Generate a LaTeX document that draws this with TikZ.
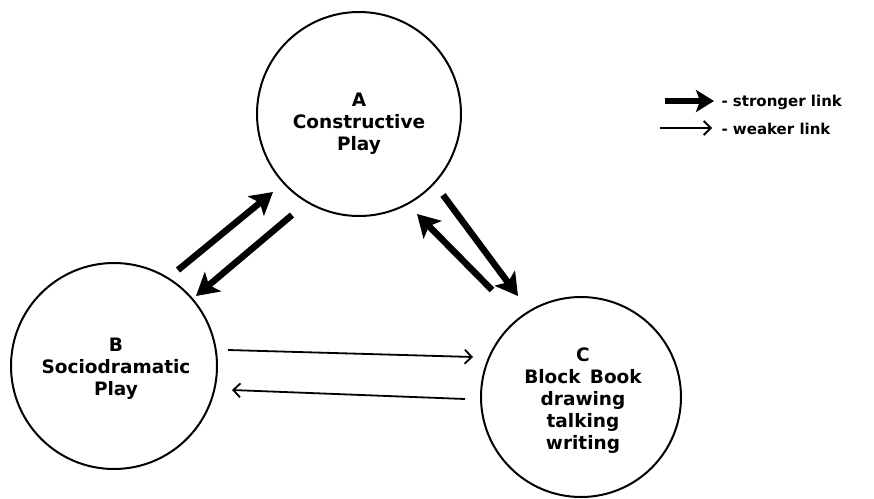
\documentclass[tikz,border=0pt]{standalone}
\usepackage{fontspec}
\setmainfont{DejaVu Sans}
\usetikzlibrary{arrows.meta}
\begin{document}
\begin{tikzpicture}[x=1pt,y=-1pt,
  bubble/.style={circle,draw=black,line width=2pt,minimum size=#1,inner sep=0pt},
  ctext/.style={align=center,font=\bfseries\fontsize{18.5}{22}\selectfont},
  strong/.style={line width=6.5pt,-{Stealth[length=22pt,width=25pt,inset=5pt]}},
  weak/.style={line width=1.8pt,-{Straight Barb[length=7pt,width=14pt,line width=1.8pt]}},
  legtext/.style={anchor=west,font=\bfseries\fontsize{15}{18}\selectfont}]
\useasboundingbox[fill=white] (0,0) rectangle (874,498);
% circles
\node[bubble=204pt] (cA) at (359,114) {};
\node[bubble=206pt] (cB) at (114,366) {};
\node[bubble=200pt] (cC) at (581,397) {};
% texts
\node[ctext] (tA) at (359,124) {A\\Constructive\\Play};
\node[ctext] (tB) at (116,369) {B\\Sociodramatic\\Play};
\node[ctext] (tC) at (583,401) {C\\Block\hspace{0.5em}Book\\drawing\\talking\\writing};
% arrow end points
\coordinate (ba1) at (178,270); \coordinate (ba2) at (273,192);
\coordinate (ab1) at (292,215); \coordinate (ab2) at (196,296);
\coordinate (ca1) at (492,290); \coordinate (ca2) at (417,214);
\coordinate (ac1) at (443,195); \coordinate (ac2) at (518,296);
\coordinate (bc1) at (228,350); \coordinate (bc2) at (473,357);
\coordinate (cb1) at (465,399); \coordinate (cb2) at (232,390);
\draw[strong] (ba1) -- (ba2);
\draw[strong] (ab1) -- (ab2);
\draw[strong] (ca1) -- (ca2);
\draw[strong] (ac1) -- (ac2);
\draw[weak] (bc1) -- (bc2);
\draw[weak] (cb1) -- (cb2);
% legend
\coordinate (ls1) at (665,101); \coordinate (ls2) at (714,101);
\coordinate (lw1) at (660,128); \coordinate (lw2) at (712,128);
\draw[line width=5.5pt,-{Stealth[length=18pt,width=22pt,inset=4pt]}] (ls1) -- (ls2);
\draw[weak] (lw1) -- (lw2);
\node[legtext] (lsT) at (718,102) {- stronger link};
\node[legtext] (lwT) at (718,129) {- weaker link};
\end{tikzpicture}
\end{document}
